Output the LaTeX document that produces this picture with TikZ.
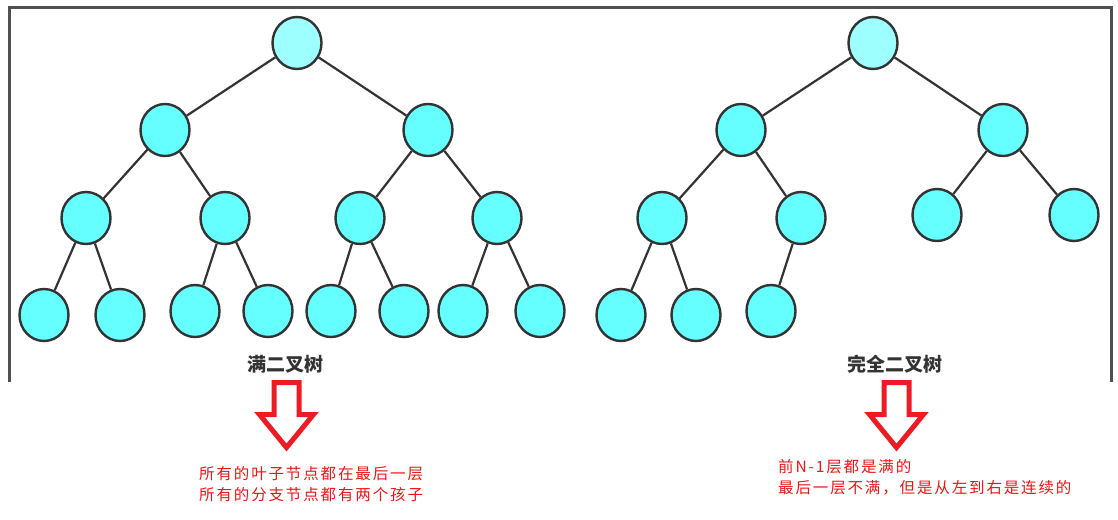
\documentclass[tikz,border=0pt]{standalone}
\usepackage{fontspec}
\usepackage{tikz}
\usetikzlibrary{shapes.geometric, positioning}
\newfontfamily\cjk{Noto Sans CJK SC}
\newfontfamily\cjknote[LetterSpace=12]{Noto Sans CJK SC}
\definecolor{nodecyan}{HTML}{66FFFF}
\definecolor{rootcyan}{HTML}{9EFFFF}
\definecolor{inkgray}{HTML}{333333}
\definecolor{framegray}{HTML}{505050}
\definecolor{arrowred}{HTML}{ED1C24}
\definecolor{notered}{HTML}{F01414}
% hollow block arrow pointing down, #1 = centre of its top edge
\newcommand\hollowarrow[1]{%
  \draw[bigarrow] (#1) ++(-12.5,0) -- ++(25,0) -- ++(0,32) -- ++(14.5,0)
    -- ++(-27,33) -- ++(-27,-33) -- ++(14.5,0) -- cycle;}

\begin{document}
\begin{tikzpicture}[
    x=1pt, y=-1pt,
    font=\cjk,
    % Base styles for the trees
    treenode/.style={ellipse, draw=inkgray, line width=2.4pt, fill=nodecyan, minimum width=49pt, minimum height=52pt, inner sep=0pt},
    rootnode/.style={treenode, fill=rootcyan},
    edge/.style={draw=inkgray, line width=2.2pt},
    frame/.style={draw=framegray, line width=3pt},
    % Texts and arrows underneath
    treelabel/.style={text=inkgray, font=\cjk\bfseries\fontsize{19}{19}\selectfont},
    note/.style={text=notered, align=left, anchor=west, inner sep=0pt, font=\cjknote\fontsize{15.5}{21.5}\selectfont},
    bigarrow/.style={draw=arrowred, line width=5pt, fill=white}
]
\useasboundingbox (0,0) rectangle (1118,519);

% --- Frame (open at the bottom) ---
\draw [frame] (9,382) -- (9,8) -- (1111,8) -- (1111,382);

% --- Full binary tree ---
\node [rootnode] (f1) at (297,43) {};
\node [treenode] (f2) at (165,130) {};
\node [treenode] (f3) at (428,130) {};
\node [treenode] (f4) at (86,218) {};
\node [treenode] (f5) at (225,218) {};
\node [treenode] (f6) at (360,218) {};
\node [treenode] (f7) at (497,218) {};
\node [treenode] (f8) at (44,315) {};
\node [treenode] (f9) at (120,315) {};
\node [treenode] (f10) at (195,311) {};
\node [treenode] (f11) at (268,311) {};
\node [treenode] (f12) at (331,311) {};
\node [treenode] (f13) at (404,311) {};
\node [treenode] (f14) at (463,311) {};
\node [treenode] (f15) at (540,311) {};

\draw [edge] (f1) -- (f2);
\draw [edge] (f1) -- (f3);
\draw [edge] (f2) -- (f4);
\draw [edge] (f2) -- (f5);
\draw [edge] (f3) -- (f6);
\draw [edge] (f3) -- (f7);
\draw [edge] (f4) -- (f8);
\draw [edge] (f4) -- (f9);
\draw [edge] (f5) -- (f10);
\draw [edge] (f5) -- (f11);
\draw [edge] (f6) -- (f12);
\draw [edge] (f6) -- (f13);
\draw [edge] (f7) -- (f14);
\draw [edge] (f7) -- (f15);

% --- Complete binary tree ---
\node [rootnode] (c1) at (873,43) {};
\node [treenode] (c2) at (741,130) {};
\node [treenode] (c3) at (1003,130) {};
\node [treenode] (c4) at (662,218) {};
\node [treenode] (c5) at (801,218) {};
\node [treenode] (c6) at (937,215) {};
\node [treenode] (c7) at (1074,215) {};
\node [treenode] (c8) at (621,315) {};
\node [treenode] (c9) at (696,315) {};
\node [treenode] (c10) at (771,311) {};

\draw [edge] (c1) -- (c2);
\draw [edge] (c1) -- (c3);
\draw [edge] (c2) -- (c4);
\draw [edge] (c2) -- (c5);
\draw [edge] (c3) -- (c6);
\draw [edge] (c3) -- (c7);
\draw [edge] (c4) -- (c8);
\draw [edge] (c4) -- (c9);
\draw [edge] (c5) -- (c10);

% --- Labels ---
\node [treelabel] (fullLabel) at (285,364) {满二叉树};
\node [treelabel] (completeLabel) at (894.5,364) {完全二叉树};

% --- Arrows and notes ---
\coordinate (fullArrow) at (286.5,382.5);
\coordinate (completeArrow) at (896.5,382.5);
\hollowarrow{fullArrow}
\hollowarrow{completeArrow}

\node [note] (fullNote) at (199,484) {所有的叶子节点都在最后一层\\所有的分支节点都有两个孩子};
\node [note] (completeNote) at (778,477.5) {前N-1层都是满的\\最后一层不满，但是从左到右是连续的};

\end{tikzpicture}
\end{document}
